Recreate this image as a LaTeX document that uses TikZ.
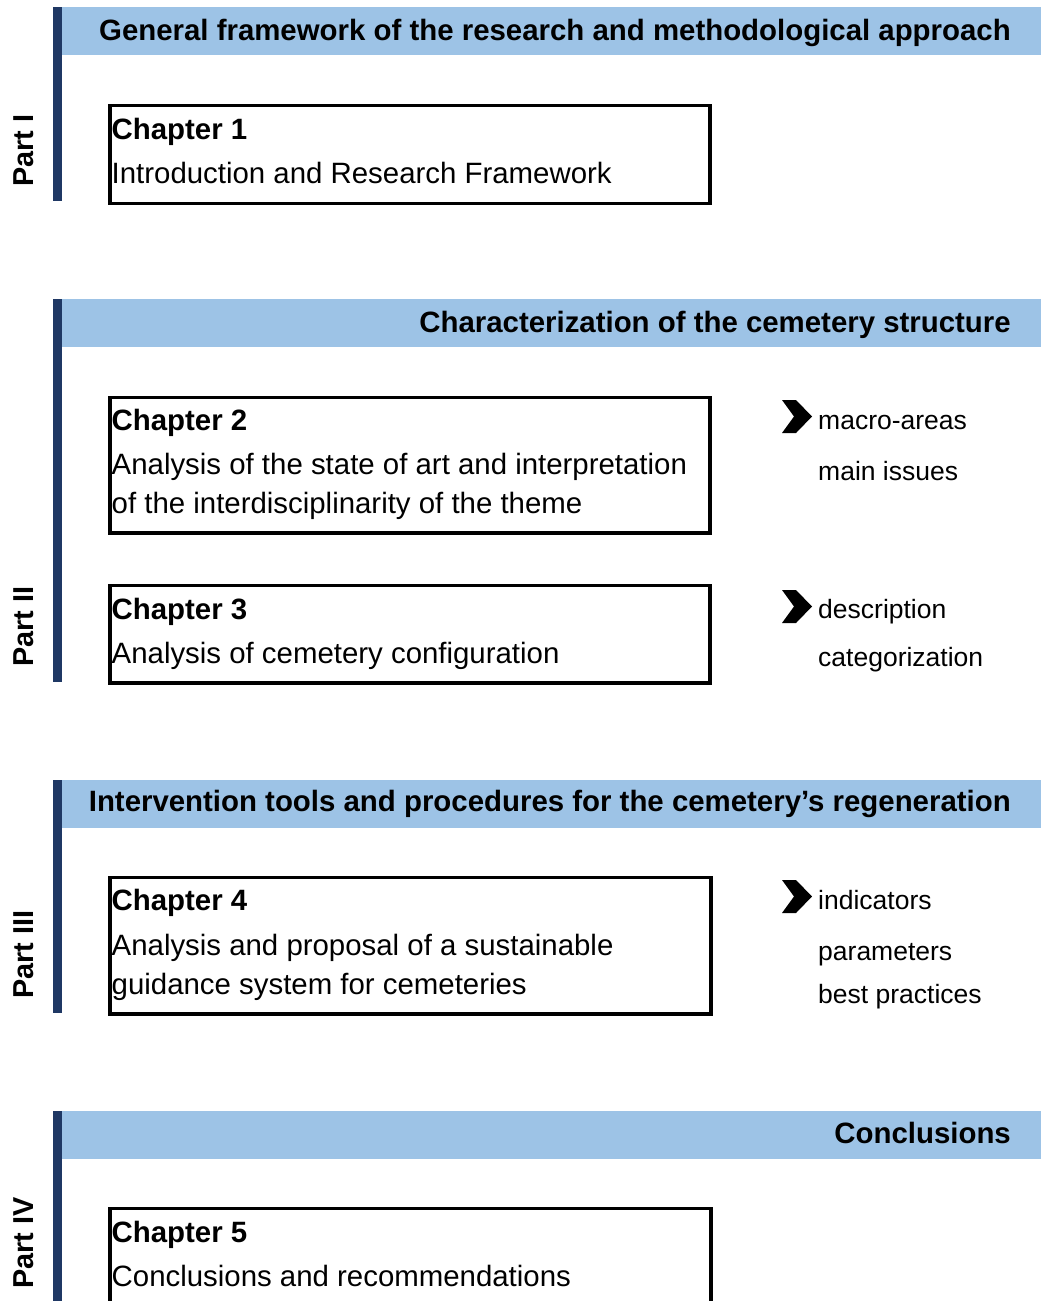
\documentclass[tikz,border=0pt]{standalone}
\usepackage{fontspec}
\setmainfont{Liberation Sans}
\usepackage{xcolor}

\definecolor{bandblue}{RGB}{157,195,230}
\definecolor{barnavy}{RGB}{31,56,100}

\tikzset{
  chapbox/.style={draw=black, line width=3.5pt},
  band/.style={fill=bandblue},
  partbar/.style={fill=barnavy},
  bodytext/.style={anchor=base west, inner sep=0pt, font=\fontsize{29.4}{35}\selectfont},
  chaptitle/.style={bodytext, font=\fontsize{29.4}{35}\selectfont\bfseries},
  headtext/.style={anchor=base east, inner sep=0pt, font=\fontsize{29.4}{35}\selectfont\bfseries},
  parttext/.style={anchor=base west, rotate=90, inner sep=0pt, font=\fontsize{28.8}{34}\selectfont\bfseries},
  sidetext/.style={anchor=base west, inner sep=0pt, font=\fontsize{26.5}{32}\selectfont}
}

\begin{document}
\begin{tikzpicture}[x=1pt,y=-1pt]
\useasboundingbox (0,0) rectangle (1041,1301);
\clip (0,0) rectangle (1041,1301);

% part bars and heading bands
\fill [partbar] (53,7) rectangle (62,201);
\fill [band] (62,7) rectangle (1041,54.5);
\fill [partbar] (53,299) rectangle (62,682);
\fill [band] (62,299) rectangle (1041,346.5);
\fill [partbar] (53,780) rectangle (62,1013);
\fill [band] (62,780) rectangle (1041,827.5);
\fill [partbar] (53,1111) rectangle (62,1310);
\fill [band] (62,1111) rectangle (1041,1158.5);

\node [headtext] (head1) at (1011,40) {General framework of the research and methodological approach};
\node [headtext] (head2) at (1011,332) {Characterization of the cemetery structure};
\node [headtext] (head3) at (1011,811) {Intervention tools and procedures for the cemetery’s regeneration};
\node [headtext] (head4) at (1011,1143) {Conclusions};

\node [parttext] (part1) at (33,187) {Part I};
\node [parttext] (part2) at (33,667) {Part II};
\node [parttext] (part3) at (33,999) {Part III};
\node [parttext] (part4) at (33,1289) {Part IV};

% chapter boxes
\draw [chapbox] (110,105.5) rectangle (710,203.5);
\node [chaptitle] (ch1) at (111.5,139) {Chapter 1};
\node [bodytext] (ch1a) at (111.5,183) {Introduction and Research Framework};

\draw [chapbox] (110,397.5) rectangle (710,533);
\node [chaptitle] (ch2) at (111.5,430) {Chapter 2};
\node [bodytext] (ch2a) at (111.5,474) {Analysis of the state of art and interpretation};
\node [bodytext] (ch2b) at (111.5,513) {of the interdisciplinarity of the theme};

\draw [chapbox] (110,585.5) rectangle (710,683);
\node [chaptitle] (ch3) at (111.5,619) {Chapter 3};
\node [bodytext] (ch3a) at (111.5,663) {Analysis of cemetery configuration};

\draw [chapbox] (110,877.5) rectangle (711,1014);
\node [chaptitle] (ch4) at (111.5,910) {Chapter 4};
\node [bodytext] (ch4a) at (111.5,955) {Analysis and proposal of a sustainable};
\node [bodytext] (ch4b) at (111.5,994) {guidance system for cemeteries};

\draw [chapbox] (110,1208.5) rectangle (711,1340);
\node [chaptitle] (ch5) at (111.5,1242) {Chapter 5};
\node [bodytext] (ch5a) at (111.5,1286) {Conclusions and recommendations};

% chevrons and side notes
\foreach \y in {400,590,880}
  \fill [shift={(0,\y)}] (782,0) -- (796,0) -- (812,16.5) -- (796,33) -- (782,33) -- (794,16.5) -- cycle;

\node [sidetext] (s2a) at (818,429) {macro-areas};
\node [sidetext] (s2b) at (818,480) {main issues};
\node [sidetext] (s3a) at (818,618) {description};
\node [sidetext] (s3b) at (818,666) {categorization};
\node [sidetext] (s4a) at (818,909) {indicators};
\node [sidetext] (s4b) at (818,960) {parameters};
\node [sidetext] (s4c) at (818,1003) {best practices};

\end{tikzpicture}
\end{document}
